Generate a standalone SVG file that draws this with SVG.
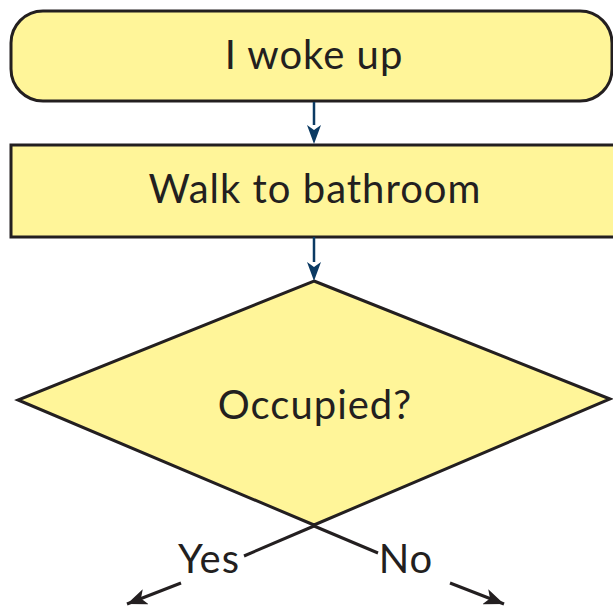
<svg xmlns="http://www.w3.org/2000/svg" width="613" height="607" viewBox="0 0 613 607">
<style>
.node{fill:#fff599;stroke:#231f20;stroke-width:3}
.lbl{font-family:Lato,"Open Sans",sans-serif;font-size:40px;letter-spacing:1px;fill:#231f20;text-anchor:middle}
.blue{stroke:#0b3a63;stroke-width:2.5;fill:none}
.blk{stroke:#231f20;stroke-width:3;fill:none}
</style>
<defs>
<marker id="ak" viewBox="0 0 20 16" refX="20" refY="8" markerWidth="20" markerHeight="16" markerUnits="userSpaceOnUse" orient="auto">
<path d="M0,0 L20,8 L0,16 L5,8 Z" fill="#231f20"/>
</marker>
</defs>
<rect width="613" height="607" fill="#ffffff"/>
<g id="n1"><rect class="node" x="11" y="11" width="601" height="90" rx="32"/><text class="lbl" x="314" y="69">I woke up</text></g>
<g id="n2"><rect class="node" x="11" y="145" width="610" height="92"/><text class="lbl" x="315" y="203">Walk to bathroom</text></g>
<g id="n3"><polygon class="node" points="314,281 610,399 314,525 18,400"/><text class="lbl" x="315" y="419">Occupied?</text></g>
<g id="connectors">
<path d="M314,102 V125" class="blue"/><path d="M307,125 L314,144 L321,125 L314,130 Z" fill="#0b3a63"/>
<path d="M314,237 V262" class="blue"/><path d="M307,262 L314,281 L321,262 L314,267 Z" fill="#0b3a63"/>
<path d="M314,526 L244,556" class="blk"/>
<path d="M314,526 L378,553" class="blk"/>
<path d="M181,583 L127,604" class="blk" marker-end="url(#ak)"/>
<path d="M450,583 L504,604" class="blk" marker-end="url(#ak)"/>
<text class="lbl" x="209" y="573">Yes</text>
<text class="lbl" x="406" y="573">No</text>
</g>
</svg>
